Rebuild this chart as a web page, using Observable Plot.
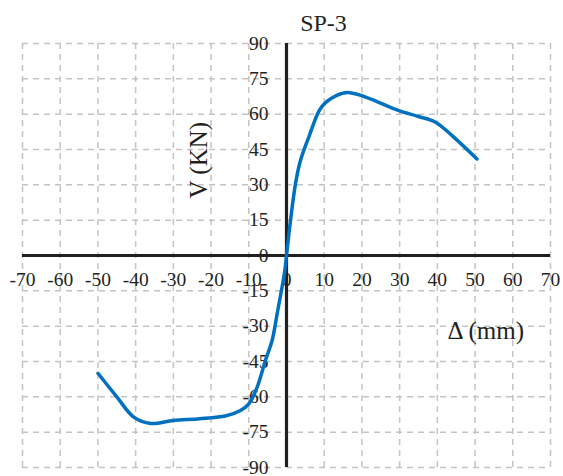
<!DOCTYPE html>
<html>
<head>
<meta charset="utf-8">
<script src="https://cdn.jsdelivr.net/npm/d3@7"></script>
<script src="https://cdn.jsdelivr.net/npm/@observablehq/plot@0.6"></script>
<style>
  html, body { margin: 0; padding: 0; background: #fff; }
</style>
</head>
<body>
<div id="chart"></div>
<script>
// Data
const title = "SP-3";
const xLabel = "Δ (mm)";
const yLabel = "V (KN)";
const xTicks = [-70, -60, -50, -40, -30, -20, -10, 0, 10, 20, 30, 40, 50, 60, 70];
const yTicks = [-90, -75, -60, -45, -30, -15, 0, 15, 30, 45, 60, 75, 90];
const deltaMm = [-50, -45, -40.5, -36, -30, -23, -16, -12.2, -10, -7.8, -5.6, -3.8, -2.4, -0.5, 0, 1, 2.4, 3.7, 5.9, 8.7, 10.5, 13.2, 16.1, 19.9, 24.3, 29.6, 35, 39.5, 43.9, 50.5];
const shearKN = [-50, -60, -68.6, -71.3, -70, -69.3, -68, -65.8, -63, -56, -44.6, -36, -24, -7, 0, 14, 30.6, 40.3, 50.2, 61.6, 65.1, 67.9, 69.2, 67.9, 65.1, 61.6, 59, 56.6, 50.9, 41];

const curve = deltaMm.map((d, i) => ({x: d, y: shearKN[i]}));
const font = "'Liberation Serif', 'Times New Roman', serif";
const ink = "#231f20";

const chart = Plot.plot({
  width: 563,
  height: 476,
  marginLeft: 22,
  marginRight: 13,
  marginTop: 43,
  marginBottom: 9,
  style: {fontFamily: font, background: "#fff", overflow: "visible"},
  x: {domain: [-70, 70], axis: null},
  y: {domain: [-90, 90], axis: null},
  marks: [
    Plot.ruleX(xTicks, {stroke: "#c4c4c4", strokeWidth: 1.5, strokeDasharray: "6,5"}),
    Plot.ruleY(yTicks, {stroke: "#c4c4c4", strokeWidth: 1.5, strokeDasharray: "6,5"}),
    Plot.ruleY([0], {stroke: ink, strokeWidth: 3.2}),
    Plot.ruleX([0], {stroke: ink, strokeWidth: 3.2}),
    Plot.text(xTicks, {x: d => d, y: () => 0, dy: 24, text: d => String(d), fontSize: 19.5, fill: ink, fontFamily: font}),
    Plot.text(yTicks, {x: () => 0, y: d => d, dx: -18, textAnchor: "end", text: d => String(d), fontSize: 19.5, fill: ink, fontFamily: font}),
    Plot.line(curve, {x: "x", y: "y", stroke: "#0070c0", strokeWidth: 3.5, curve: "catmull-rom", strokeLinejoin: "round", strokeLinecap: "round"}),
    Plot.text([title], {frameAnchor: "top", dx: 37, dy: -30, text: d => d, fontSize: 24, fill: ink, fontFamily: font}),
    Plot.text([yLabel], {frameAnchor: "top-left", dx: 167, dy: 155, rotate: -90, text: d => d, fontSize: 25, fill: ink, fontFamily: font}),
    Plot.text([xLabel], {frameAnchor: "top-left", dx: 425, dy: 278, text: d => d, fontSize: 25, fill: ink, fontFamily: font})
  ]
});
document.getElementById("chart").appendChild(chart);
</script>
</body>
</html>
